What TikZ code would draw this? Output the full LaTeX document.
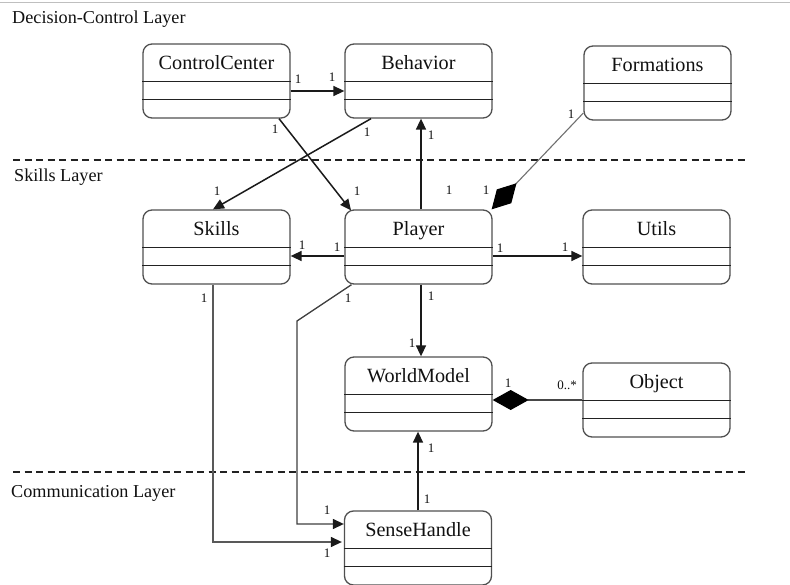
\documentclass[tikz,border=0pt]{standalone}
\usepackage{fontspec}
\setmainfont{Liberation Serif}
\usetikzlibrary{arrows.meta,calc}
\definecolor{boxc}{HTML}{505050}
\definecolor{divc}{HTML}{222222}
\definecolor{linec}{HTML}{1A1A1A}
\definecolor{greyc}{HTML}{707070}
\definecolor{txtc}{HTML}{111111}
\newcommand\umlbox[4]{%
  \node[cls] (#1) at (#2,#3) {};
  \node[clstitle] (#1-t) at ([yshift=-26pt]#1.north) {#4};
  \draw[divider] ([yshift=-38pt]#1.north west) -- ([yshift=-38pt]#1.north east);
  \draw[divider] ([yshift=-56pt]#1.north west) -- ([yshift=-56pt]#1.north east);
}
\begin{document}
\begin{tikzpicture}[x=1pt,y=-1pt,
  cls/.style={draw=boxc,line width=1.3pt,rounded corners=9pt,minimum width=147pt,minimum height=74pt,inner sep=0pt,fill=white},
  clstitle/.style={anchor=base,inner sep=0pt,text=txtc,font=\fontsize{20.2}{22}\selectfont},
  divider/.style={draw=divc,line width=1pt},
  layer/.style={anchor=base west,inner sep=0pt,text=txtc,font=\fontsize{18.2}{20}\selectfont},
  mult/.style={inner sep=0pt,text=txtc,font=\fontsize{13}{14}\selectfont},
  sep/.style={draw=divc,line width=1.2pt,dash pattern=on 7pt off 4.5pt},
  assoc/.style={draw=linec,line width=1.5pt,-{Triangle[length=11pt,width=10pt]}},
  compo/.style={draw=greyc,line width=1.1pt,{Diamond[length=36pt,width=20pt,color=black]}-},
  greyassoc/.style={draw=#1,line width=1.3pt,-{Triangle[length=11pt,width=10pt,color=linec]}},
]
\useasboundingbox (0,0) rectangle (790,585);
\fill[white] (0,0) rectangle (790,585);
\draw[draw=black!25,line width=1pt] (0,3) -- (790,3);

% layers
\node[layer] (l1) at (12,24) {Decision-Control Layer};
\node[layer] (l2) at (14,182) {Skills Layer};
\node[layer] (l3) at (11,497) {Communication Layer};
\coordinate (s1a) at (13,160);
\coordinate (s1b) at (748,160);
\coordinate (s2a) at (13,472);
\coordinate (s2b) at (748,472);
\draw[sep] (s1a) -- (s1b);
\draw[sep] (s2a) -- (s2b);

% classes
\umlbox{cc}{216.5}{81}{ControlCenter}
\umlbox{beh}{418.5}{81}{Behavior}
\umlbox{form}{657.5}{83}{Formations}
\umlbox{sk}{216.5}{247}{Skills}
\umlbox{pl}{418.5}{247}{Player}
\umlbox{ut}{656.5}{247}{Utils}
\umlbox{wm}{418.5}{394}{WorldModel}
\umlbox{obj}{656.5}{400}{Object}
\umlbox{sh}{418}{548}{SenseHandle}

% connectors
\draw[assoc] ([yshift=-10pt]cc.east) -- ([yshift=-10pt]beh.west);
\draw[assoc] ([xshift=62.5pt]cc.south) -- ([xshift=-67.5pt,yshift=-1pt]pl.north);
\draw[assoc] ([xshift=-47.5pt]beh.south) -- ([xshift=-3.5pt]sk.north);
\draw[assoc] ([xshift=2.5pt]pl.north) -- ([xshift=2.5pt]beh.south);
\draw[compo] ([xshift=-1pt]pl.north east) -- ([yshift=-30pt]form.west);
\draw[assoc] ([yshift=-9pt]pl.west) -- ([yshift=-9pt]sk.east);
\draw[assoc] ([yshift=-9pt]pl.east) -- ([yshift=-9pt]ut.west);
\draw[assoc] ([xshift=2.5pt]pl.south) -- ([xshift=2.5pt]wm.north);
\draw[compo,draw=linec!80] ([yshift=-6pt]wm.east) -- (obj.west);
\draw[assoc] (sh.north) -- (sh.north |- wm.south);
\coordinate (bend) at (297,321);
\draw[greyassoc=black!75] ([xshift=-67pt]pl.south) -- (bend) |- ([yshift=24pt]sh.west);
\draw[greyassoc=black!65,shorten >=2pt] ([xshift=-3.5pt]sk.south) |- ([yshift=6pt]sh.west);

% multiplicities
\node[mult] (m1) at (298,79) {1};
\node[mult] (m2) at (332,77) {1};
\node[mult] (m3) at (275,129) {1};
\node[mult] (m4) at (357,191) {1};
\node[mult] (m5) at (367,132) {1};
\node[mult] (m6) at (217,191) {1};
\node[mult] (m7) at (431,135) {1};
\node[mult] (m8) at (449,190) {1};
\node[mult] (m9) at (571,114) {1};
\node[mult] (m10) at (486,190) {1};
\node[mult] (m11) at (302,245) {1};
\node[mult] (m12) at (337,247) {1};
\node[mult] (m13) at (500,248) {1};
\node[mult] (m14) at (565,247) {1};
\node[mult] (m15) at (431,296) {1};
\node[mult] (m16) at (412,343) {1};
\node[mult] (m17) at (508,383) {1};
\node[mult] (m18) at (567,385) {0..*};
\node[mult] (m19) at (431,448) {1};
\node[mult] (m20) at (427,499) {1};
\node[mult] (m21) at (348,298) {1};
\node[mult] (m22) at (327,510) {1};
\node[mult] (m23) at (204,298) {1};
\node[mult] (m24) at (327,553) {1};
\end{tikzpicture}
\end{document}
